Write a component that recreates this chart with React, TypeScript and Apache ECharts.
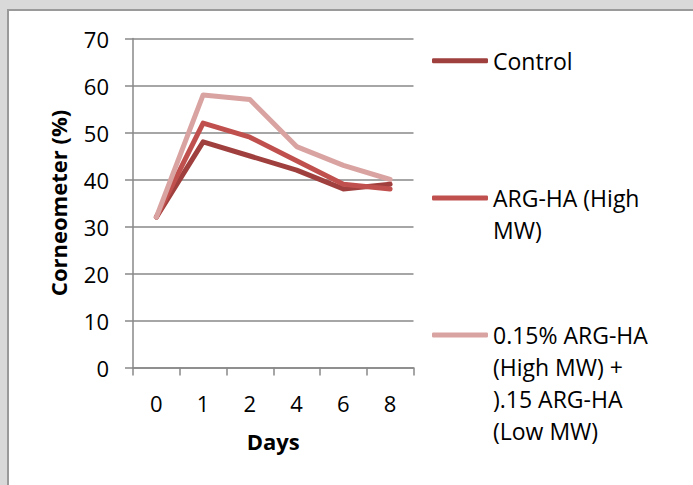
import React, { useEffect, useRef } from "react";
import * as echarts from "echarts";

const days = ["0", "1", "2", "4", "6", "8"];
const seriesNames = ["Control", "ARG-HA (High MW)", "0.15% ARG-HA (High MW) + ).15 ARG-HA (Low MW)"];
const legendLabels = ["Control", "ARG-HA (High\nMW)", "0.15% ARG-HA\n(High MW) +\n).15 ARG-HA\n(Low MW)"];
const control = [32, 48, 45, 42, 38, 39];
const argHigh = [32, 52, 49, 44, 39, 38];
const argMix = [32, 58, 57, 47, 43, 40];
const yTicks = { min: 0, max: 70, interval: 10 };
const colors = ["#a0403e", "#c0504d", "#d9a3a2"];

const FONT = "'Open Sans', sans-serif";

export default function App() {
  const ref = useRef<HTMLDivElement>(null);
  useEffect(() => {
    if (!ref.current) return;
    const chart = echarts.init(ref.current, undefined, { renderer: "svg" });
    const values = [control, argHigh, argMix];
    const lineH = 32;
    const iconCenters = [60.7, 198, 335];
    const legends = seriesNames.map((name, i) => {
      const lines = legendLabels[i].split("\n").length;
      const total = 2 * lines - 1;
      // leading blank lines keep the first text line level with the icon
      const label = "\n".repeat(lines - 1) + legendLabels[i];
      return {
        left: 432,
        top: iconCenters[i] - (total * lineH) / 2,
        padding: 0,
        orient: "vertical",
        selectedMode: false,
        itemWidth: 56,
        itemHeight: 5,
        itemGap: 0,
        icon: "roundRect",
        formatter: () => label,
        textStyle: { fontFamily: FONT, fontSize: 23, color: "#000", lineHeight: lineH },
        data: [name],
      };
    });
    chart.setOption({
      animation: false,
      color: colors,
      textStyle: { fontFamily: FONT },
      legend: legends,
      grid: { left: 133, top: 38.5, right: 279.5, bottom: 117.5, containLabel: false },
      xAxis: {
        type: "category",
        data: days,
        boundaryGap: true,
        name: "Days",
        nameLocation: "middle",
        nameGap: 62,
        nameTextStyle: { fontFamily: FONT, fontSize: 22, fontWeight: "bold", color: "#000" },
        axisLine: { lineStyle: { color: "#888", width: 1.5 } },
        axisTick: { show: true, length: 8, lineStyle: { color: "#888", width: 1.5 } },
        axisLabel: { fontFamily: FONT, fontSize: 22, color: "#000", margin: 24 },
      },
      yAxis: {
        type: "value",
        min: yTicks.min,
        max: yTicks.max,
        interval: yTicks.interval,
        name: "Corneometer (%)",
        nameLocation: "middle",
        nameGap: 64,
        nameTextStyle: { fontFamily: FONT, fontSize: 22, fontWeight: "bold", color: "#000" },
        axisLine: { show: true, lineStyle: { color: "#888", width: 1.5 } },
        axisTick: { show: true, length: 8, lineStyle: { color: "#888", width: 1.5 } },
        axisLabel: { fontFamily: FONT, fontSize: 22, color: "#000", margin: 24 },
        splitLine: { show: true, lineStyle: { color: "#888", width: 1.5 } },
      },
      series: seriesNames.map((name, i) => ({
        name,
        type: "line",
        data: values[i],
        showSymbol: false,
        symbol: "none",
        lineStyle: { width: 5, color: colors[i], cap: "round", join: "round" },
        itemStyle: { color: colors[i] },
      })),
    });
    return () => chart.dispose();
  }, []);

  return (
    <div style={{ position: "fixed", left: 0, top: 0, width: 693, height: 485, background: "#d9d9d9", overflow: "hidden" }}>
      <div
        style={{
          position: "absolute",
          left: 7,
          top: 9,
          right: 0,
          bottom: 0,
          background: "#fff",
          borderLeft: "2px solid #9a9a9a",
          borderTop: "2px solid #9a9a9a",
        }}
      />
      <div ref={ref} style={{ position: "absolute", left: 0, top: 0, width: 693, height: 485 }} />
    </div>
  );
}
